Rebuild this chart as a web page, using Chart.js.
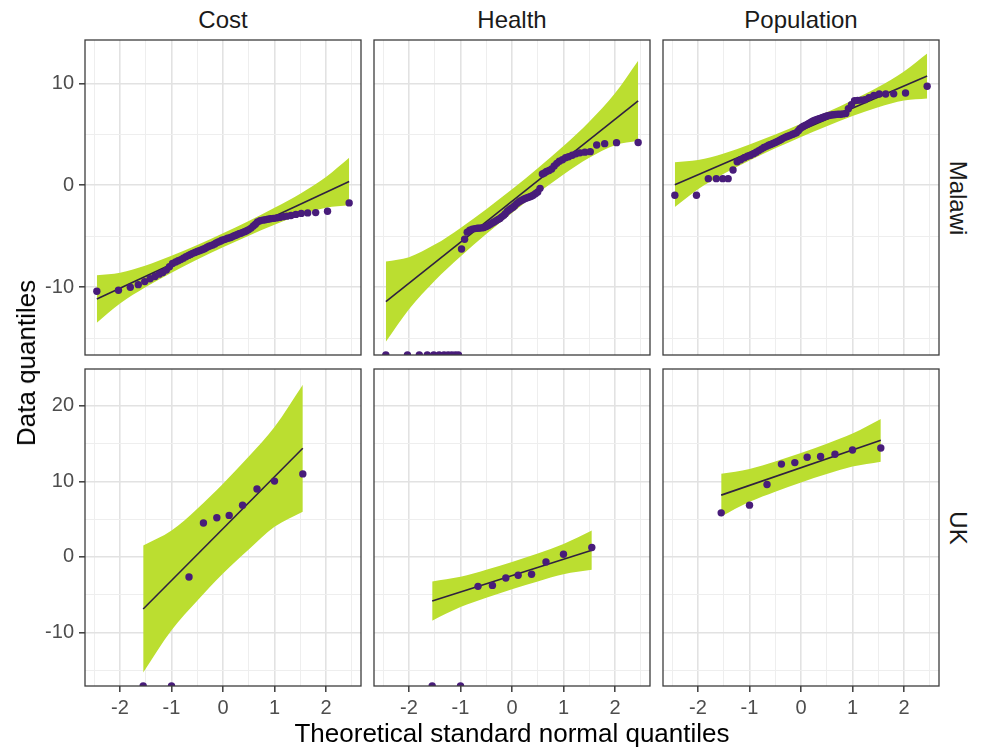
<!DOCTYPE html>
<html>
<head>
<meta charset="utf-8">
<script src="https://cdn.jsdelivr.net/npm/chart.js@4.4.1/dist/chart.umd.min.js"></script>
<style>
  html, body { margin: 0; padding: 0; background: #fff; }
  #wrap { position: relative; width: 981px; height: 749px; overflow: hidden;
          font-family: 'Liberation Sans', Arial, sans-serif; }
  canvas { position: absolute; }
  .lbl { position: absolute; white-space: nowrap; color: #1a1a1a; line-height: 1; }
  .strip { font-size: 24px; transform: translate(-50%, -50%); }
  .strip-r { font-size: 24px; transform: translate(-50%, -50%) rotate(90deg); }
  .title { font-size: 26px; color: #000; }
</style>
</head>
<body>
<div id="wrap"></div>
<script>
// ---- facets ----
const measures = ['Cost', 'Health', 'Population'];
const countries = ['Malawi', 'UK'];

// ---- theoretical quantiles (x) ----
const qMalawi = [
  -2.45, -2.03, -1.80, -1.645, -1.52, -1.415, -1.32, -1.24, -1.17, -1.10,
  -1.04, -0.98, -0.92, -0.87, -0.82, -0.77, -0.72, -0.67, -0.63, -0.59,
  -0.545, -0.50, -0.46, -0.42, -0.385, -0.35, -0.31, -0.27, -0.235, -0.20,
  -0.16, -0.13, -0.09, -0.05, -0.02, 0.02, 0.05, 0.09, 0.13, 0.16,
  0.20, 0.235, 0.27, 0.31, 0.35, 0.385, 0.42, 0.46, 0.50, 0.545,
  0.59, 0.63, 0.67, 0.72, 0.77, 0.82, 0.87, 0.92, 0.98, 1.04,
  1.10, 1.17, 1.24, 1.32, 1.415, 1.52, 1.645, 1.80, 2.03, 2.45
];
const qUK = [-1.55, -1.0, -0.66, -0.38, -0.12, 0.12, 0.38, 0.66, 1.0, 1.55];

// ---- data quantiles (y); -Infinity sits on the panel floor ----
const malawiCost = [
  -10.39, -10.3, -10.0, -9.75, -9.45, -9.17, -8.95, -8.72, -8.55, -8.32,
  -8.0, -7.68, -7.52, -7.4, -7.29, -7.15, -7.0, -6.88, -6.78, -6.68,
  -6.6, -6.5, -6.42, -6.35, -6.27, -6.2, -6.08, -5.98, -5.92, -5.85,
  -5.75, -5.65, -5.56, -5.48, -5.4, -5.33, -5.28, -5.2, -5.16, -5.1,
  -5.0, -4.92, -4.85, -4.76, -4.7, -4.62, -4.55, -4.46, -4.35, -4.2,
  -4.0, -3.82, -3.6, -3.48, -3.42, -3.38, -3.33, -3.29, -3.25, -3.2,
  -3.15, -3.08, -3.03, -2.96, -2.86, -2.76, -2.71, -2.68, -2.55, -1.73
];
const malawiHealth = [
  -Infinity, -Infinity, -Infinity, -Infinity, -Infinity, -Infinity, -Infinity, -Infinity, -Infinity, -Infinity,
  -Infinity, -6.25, -5.3, -4.6, -4.4, -4.3, -4.25, -4.22, -4.2, -4.18,
  -4.15, -4.05, -3.95, -3.82, -3.7, -3.6, -3.48, -3.35, -3.25, -3.1,
  -2.95, -2.8, -2.55, -2.4, -2.28, -2.15, -2.0, -1.8, -1.65, -1.55,
  -1.45, -1.35, -1.28, -1.2, -1.12, -1.05, -0.95, -0.8, -0.65, -0.3,
  1.1, 1.2, 1.35, 1.45, 1.6, 1.9, 2.15, 2.35, 2.5, 2.7,
  2.8, 2.95, 3.08, 3.18, 3.25, 3.3, 3.95, 4.08, 4.18, 4.2
];
const malawiPopulation = [
  -0.98, -0.98, 0.65, 0.65, 0.65, 0.65, 1.5, 2.3, 2.5, 2.7,
  2.85, 2.95, 3.1, 3.25, 3.4, 3.55, 3.7, 3.82, 3.92, 4.0,
  4.1, 4.2, 4.3, 4.4, 4.5, 4.6, 4.7, 4.78, 4.85, 4.92,
  5.0, 5.07, 5.15, 5.35, 5.55, 5.7, 5.8, 5.9, 6.0, 6.1,
  6.2, 6.3, 6.38, 6.45, 6.52, 6.58, 6.65, 6.72, 6.8, 6.85,
  6.9, 6.92, 6.94, 6.96, 6.97, 7.0, 7.05, 7.5, 7.9, 8.3,
  8.33, 8.35, 8.4, 8.6, 8.82, 8.95, 8.95, 8.97, 9.05, 9.71
];
const ukCost = [-Infinity, -Infinity, -2.65, 4.5, 5.2, 5.5, 6.86, 9.0, 10.05, 11.0];
const ukHealth = [-Infinity, -Infinity, -3.9, -3.77, -2.8, -2.43, -2.3, -0.66, 0.36, 1.25];
const ukPopulation = [5.84, 6.86, 9.6, 12.3, 12.5, 13.2, 13.3, 13.6, 14.16, 14.43];

// ---- reference lines (value at first and last x) ----
const lineXMalawi = [-2.45, 2.45];
const lineXUK = [-1.55, 1.55];
const malawiCostLine = [-11.15, 0.37];
const malawiHealthLine = [-11.41, 8.29];
const malawiPopulationLine = [0.06, 10.72];
const ukCostLine = [-6.9, 14.4];
const ukHealthLine = [-5.84, 0.89];
const ukPopulationLine = [8.19, 15.45];

// ---- confidence bands ----
const bandXMalawi = [-2.45, -2, -1.5, -1, -0.5, 0, 0.5, 1, 1.5, 2, 2.45];
const malawiCostUpper = [-8.82, -8.58, -7.87, -6.91, -5.85, -4.70, -3.50, -2.21, -0.82, 0.82, 2.70];
const malawiCostLower = [-13.48, -11.60, -9.97, -8.57, -7.29, -6.08, -4.94, -3.87, -2.92, -2.20, -1.96];
const malawiHealthUpper = [-7.48, -7.05, -5.82, -4.18, -2.35, -0.40, 1.67, 3.86, 6.24, 9.03, 12.22];
const malawiHealthLower = [-15.34, -12.15, -9.36, -6.98, -4.79, -2.72, -0.77, 1.06, 2.70, 3.93, 4.36];
const malawiPopulationUpper = [2.26, 2.47, 3.12, 4.00, 4.98, 6.04, 7.16, 8.35, 9.64, 11.17, 12.92];
const malawiPopulationLower = [-2.14, -0.39, 1.14, 2.44, 3.62, 4.74, 5.80, 6.79, 7.66, 8.31, 8.52];

const bandXUK = [-1.55, -1, -0.5, 0, 0.5, 1, 1.55];
const ukCostUpper = [1.5, 3.5, 6.4, 9.7, 13.3, 17.2, 22.8];
const ukCostLower = [-15.3, -9.7, -5.8, -2.2, 1.0, 4.0, 6.0];
const ukHealthUpper = [-3.24, -2.64, -1.71, -0.67, 0.46, 1.70, 3.49];
const ukHealthLower = [-8.44, -6.64, -5.41, -4.27, -3.24, -2.30, -1.71];
const ukPopulationUpper = [11.02, 11.66, 12.65, 13.77, 14.99, 16.34, 18.28];
const ukPopulationLower = [5.36, 7.30, 8.65, 9.87, 10.99, 11.98, 12.62];

// ---- axes ----
const xTicks = [-2.5, -2, -1.5, -1, -0.5, 0, 0.5, 1, 1.5, 2, 2.5];
const xLabels = [-2, -1, 0, 1, 2];
const xRange = [-2.68, 2.68];
const malawiYTicks = [-15, -10, -5, 0, 5, 10];
const malawiYLabels = [-10, 0, 10];
const malawiYRange = [-16.65, 14.25];
const ukYTicks = [-15, -10, -5, 0, 5, 10, 15, 20];
const ukYLabels = [-10, 0, 10, 20];
const ukYRange = [-17.1, 24.9];

const panels = {
  Malawi: {
    q: qMalawi, lineX: lineXMalawi, bandX: bandXMalawi,
    yTicks: malawiYTicks, yLabels: malawiYLabels, yRange: malawiYRange,
    Cost: [malawiCost, malawiCostLine, malawiCostUpper, malawiCostLower],
    Health: [malawiHealth, malawiHealthLine, malawiHealthUpper, malawiHealthLower],
    Population: [malawiPopulation, malawiPopulationLine, malawiPopulationUpper, malawiPopulationLower],
  },
  UK: {
    q: qUK, lineX: lineXUK, bandX: bandXUK,
    yTicks: ukYTicks, yLabels: ukYLabels, yRange: ukYRange,
    Cost: [ukCost, ukCostLine, ukCostUpper, ukCostLower],
    Health: [ukHealth, ukHealthLine, ukHealthUpper, ukHealthLower],
    Population: [ukPopulation, ukPopulationLine, ukPopulationUpper, ukPopulationLower],
  },
};

// ---- look ----
const POINT = '#481c7a';
const LINE = '#2f2140';
const BAND = '#bbde30';
const GRID_MAJOR = '#e2e2e2';
const GRID_MINOR = '#eeeeee';
const FONT = "'Liberation Sans', Arial, sans-serif";

// panel boxes in page pixels
const colLeft = [85, 374, 663];
const panelW = 276;
const rowTop = [40, 369];
const rowH = [315, 317];
const YAXW = 55;
const XAXH = 34;
const PAD = 4;

const frame = {
  id: 'frame',
  afterDraw(chart) {
    const { ctx, chartArea: a } = chart;
    ctx.save();
    ctx.strokeStyle = '#3d3d3d';
    ctx.lineWidth = 1.3;
    ctx.strokeRect(a.left, a.top, a.right - a.left, a.bottom - a.top);
    ctx.restore();
  }
};

function xy(xs, ys) {
  return xs.map((x, i) => ({ x, y: ys[i] }));
}

function isMajor(v, isY) {
  return isY ? v % 10 === 0 : Number.isInteger(v);
}

function makeAxis(tickVals, labelVals, range, showLabels, size, isY) {
  return {
    type: 'linear',
    min: range[0],
    max: range[1],
    border: { display: false },
    afterBuildTicks: s => { s.ticks = tickVals.map(v => ({ value: v })); },
    afterFit: s => {
      if (isY) s.width = size; else s.height = size;
      // panels must line up, so no room is kept for labels that overhang
      s.paddingTop = 0; s.paddingBottom = 0; s.paddingLeft = 0; s.paddingRight = 0;
    },
    grid: {
      color: c => c.tick && isMajor(c.tick.value, isY) ? GRID_MAJOR : GRID_MINOR,
      lineWidth: c => c.tick && isMajor(c.tick.value, isY) ? 1.6 : 1,
      drawTicks: showLabels,
      tickLength: 6,
      tickWidth: 1.5,
      tickColor: c => (c.tick && labelVals.includes(c.tick.value)) ? '#3d3d3d' : 'rgba(0,0,0,0)',
    },
    ticks: {
      display: showLabels,
      autoSkip: false,
      maxRotation: 0,
      padding: isY ? 5 : 4,
      color: '#4d4d4d',
      font: { family: FONT, size: 20 },
      callback: v => labelVals.includes(v) ? String(v) : '',
    },
  };
}

const wrap = document.getElementById('wrap');

countries.forEach((country, r) => {
  const p = panels[country];
  measures.forEach((measure, c) => {
    const [ys, lineY, upper, lower] = p[measure];
    const leftAxis = c === 0 ? YAXW : 0;
    const bottomAxis = r === 1 ? XAXH : 0;

    const canvas = document.createElement('canvas');
    canvas.width = panelW + leftAxis + 2 * PAD;
    canvas.height = rowH[r] + bottomAxis + 2 * PAD;
    canvas.style.left = (colLeft[c] - leftAxis - PAD) + 'px';
    canvas.style.top = (rowTop[r] - PAD) + 'px';
    wrap.appendChild(canvas);

    const floor = p.yRange[0];
    const pts = p.q.map((x, i) => ({ x, y: ys[i] === -Infinity ? floor : ys[i] }));

    new Chart(canvas, {
      type: 'scatter',
      data: {
        datasets: [
          { data: pts, backgroundColor: POINT, borderColor: POINT, pointRadius: 3.7, borderWidth: 0, clip: 0 },
          { type: 'line', data: xy(p.lineX, lineY), borderColor: LINE, borderWidth: 1.6, pointRadius: 0, fill: false, clip: 0 },
          { type: 'line', data: xy(p.bandX, lower), borderWidth: 0, pointRadius: 0, fill: false, cubicInterpolationMode: 'monotone', clip: 0 },
          { type: 'line', data: xy(p.bandX, upper), borderWidth: 0, pointRadius: 0, fill: '-1', backgroundColor: BAND, cubicInterpolationMode: 'monotone', clip: 0 },
        ],
      },
      options: {
        responsive: false,
        animation: false,
        events: [],
        layout: { padding: PAD },
        plugins: { legend: { display: false }, tooltip: { enabled: false } },
        scales: {
          x: makeAxis(xTicks, xLabels, xRange, r === 1, bottomAxis, false),
          y: makeAxis(p.yTicks, p.yLabels, p.yRange, c === 0, leftAxis, true),
        },
      },
      plugins: [frame],
    });
  });
});

// ---- text: strips and axis titles ----
function addLabel(text, cls, left, top) {
  const d = document.createElement('div');
  d.className = 'lbl ' + cls;
  d.textContent = text;
  d.style.left = left + 'px';
  d.style.top = top + 'px';
  wrap.appendChild(d);
  return d;
}

measures.forEach((m, c) => addLabel(m, 'strip', colLeft[c] + panelW / 2, 20));
countries.forEach((k, r) => addLabel(k, 'strip-r', 958, rowTop[r] + rowH[r] / 2));

const xt = addLabel('Theoretical standard normal quantiles', 'title', 512, 733);
xt.style.transform = 'translate(-50%, -50%)';
const yt = addLabel('Data quantiles', 'title', 26, 363);
yt.style.transform = 'translate(-50%, -50%) rotate(-90deg)';
</script>
</body>
</html>
